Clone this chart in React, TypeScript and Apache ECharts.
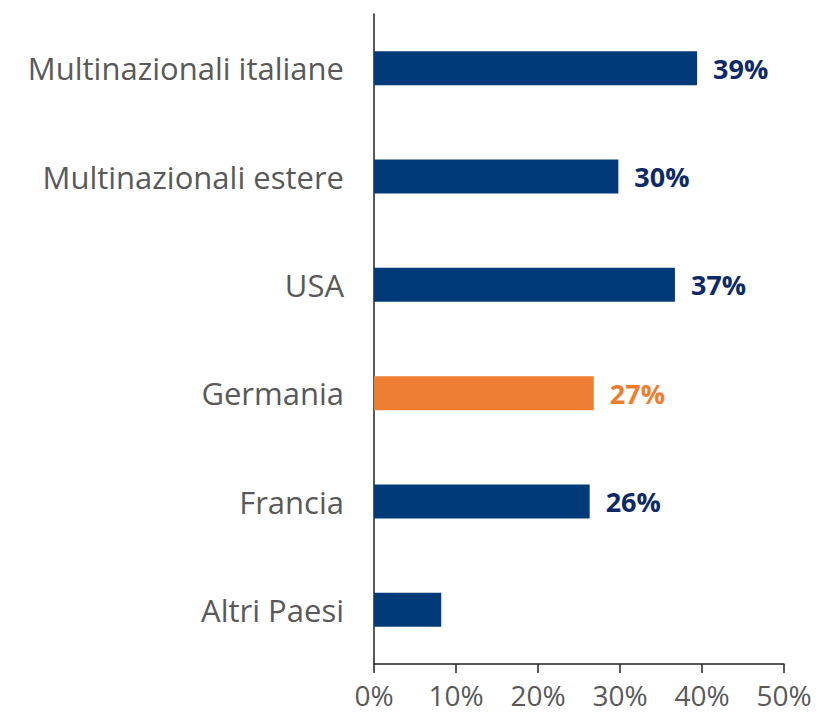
import React, { useEffect, useRef } from "react";
import * as echarts from "echarts";

const categories = [
  "Multinazionali italiane",
  "Multinazionali estere",
  "USA",
  "Germania",
  "Francia",
  "Altri Paesi",
];
const values = [39.4, 29.8, 36.7, 26.8, 26.3, 8.2];
const valueLabels = ["39%", "30%", "37%", "27%", "26%", ""];
const highlighted = ["Germania"];
const xTicks = [0, 10, 20, 30, 40, 50];

const NAVY = "#003A78";
const NAVY_TEXT = "#0E2A66";
const ORANGE = "#ED7D31";
const FONT = "'Open Sans', 'DejaVu Sans', sans-serif";

export default function App() {
  const ref = useRef<HTMLDivElement>(null);
  useEffect(() => {
    if (!ref.current) return;
    const chart = echarts.init(ref.current, null, { renderer: "svg" });
    const data = values.map((v, i) => {
      const hi = highlighted.includes(categories[i]);
      return {
        value: v,
        itemStyle: { color: hi ? ORANGE : NAVY },
        label: {
          show: valueLabels[i] !== "",
          formatter: valueLabels[i],
          color: hi ? ORANGE : NAVY_TEXT,
        },
      };
    });
    chart.setOption({
      animation: false,
      backgroundColor: "#fff",
      grid: { left: 366, right: 35, top: 6, bottom: 53, containLabel: false },
      xAxis: {
        type: "value",
        min: xTicks[0],
        max: xTicks[xTicks.length - 1],
        interval: 10,
        axisLine: { show: true, lineStyle: { color: "#222", width: 1.5 } },
        axisTick: { show: true, length: 9, lineStyle: { color: "#222", width: 1.5 } },
        splitLine: { show: false },
        axisLabel: {
          formatter: "{value}%",
          fontSize: 28,
          lineHeight: 28,
          fontFamily: FONT,
          color: "#595959",
          margin: 17,
        },
      },
      yAxis: {
        type: "category",
        data: categories,
        inverse: true,
        axisLine: { show: true, lineStyle: { color: "#222", width: 1.5 } },
        axisTick: { show: false },
        axisLabel: {
          fontSize: 31,
          fontFamily: FONT,
          color: "#595959",
          margin: 30,
        },
      },
      series: [
        {
          type: "bar",
          data,
          barWidth: 34,
          label: {
            show: true,
            position: "right",
            distance: 16,
            fontSize: 27,
            fontWeight: "bold",
            fontFamily: FONT,
          },
        },
      ],
    });
    return () => chart.dispose();
  }, []);
  return <div ref={ref} style={{ width: 811, height: 709 }} />;
}
